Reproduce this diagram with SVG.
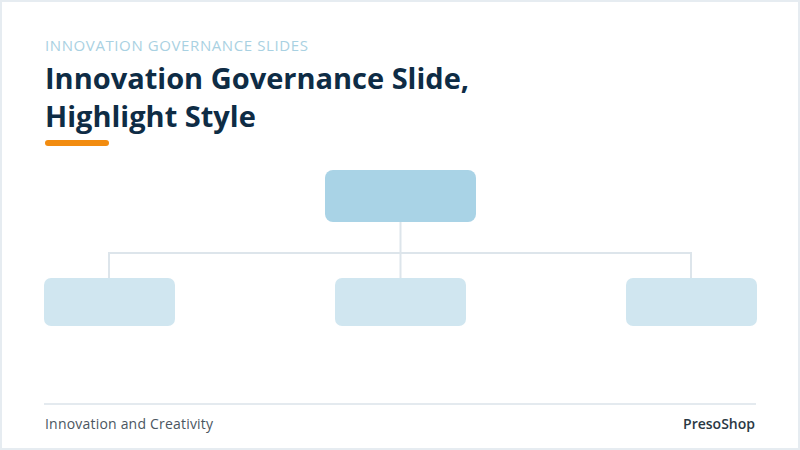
<svg xmlns="http://www.w3.org/2000/svg" width="800" height="450" viewBox="0 0 800 450">
<style>
.kicker{font-family:"Open Sans","Noto Sans",sans-serif;font-size:15px;letter-spacing:0.6px;fill:#a9d1e2;}
.title{font-family:"Open Sans","Noto Sans",sans-serif;font-size:29px;font-weight:700;fill:#0e2c45;}
.foot{font-family:"Open Sans","Noto Sans",sans-serif;font-size:14px;letter-spacing:0.2px;fill:#4b5661;}
.brand{font-family:"Open Sans","Noto Sans",sans-serif;font-size:14px;font-weight:600;fill:#2a3844;}
.root{fill:#a9d3e6;}
.child{fill:#d0e6f0;}
.conn{stroke:#dde5eb;stroke-width:2;fill:none;}
</style>
<rect x="0" y="0" width="800" height="450" fill="#e6ecf1"/>
<rect x="2" y="2" width="796" height="446" fill="#ffffff"/>
<text class="kicker" x="45" y="51">INNOVATION GOVERNANCE SLIDES</text>
<text class="title" x="45" y="89">Innovation Governance Slide,</text>
<text class="title" x="45" y="127">Highlight Style</text>
<rect x="45" y="140" width="64" height="6" rx="3" fill="#f28c10"/>
<g id="connectors">
<path class="conn" d="M400.5 222 V278"/>
<path class="conn" d="M109 278 V253 H691 V278"/>
</g>
<g id="node-root"><rect class="root" x="325" y="170" width="151" height="52" rx="8"/></g>
<g id="node-left"><rect class="child" x="44" y="278" width="131" height="48" rx="7"/></g>
<g id="node-middle"><rect class="child" x="335" y="278" width="131" height="48" rx="7"/></g>
<g id="node-right"><rect class="child" x="626" y="278" width="131" height="48" rx="7"/></g>
<line x1="44" y1="404" x2="756" y2="404" stroke="#e4eaef" stroke-width="2"/>
<text class="foot" x="45" y="429">Innovation and Creativity</text>
<text class="brand" x="755" y="429" text-anchor="end">PresoShop</text>
</svg>
